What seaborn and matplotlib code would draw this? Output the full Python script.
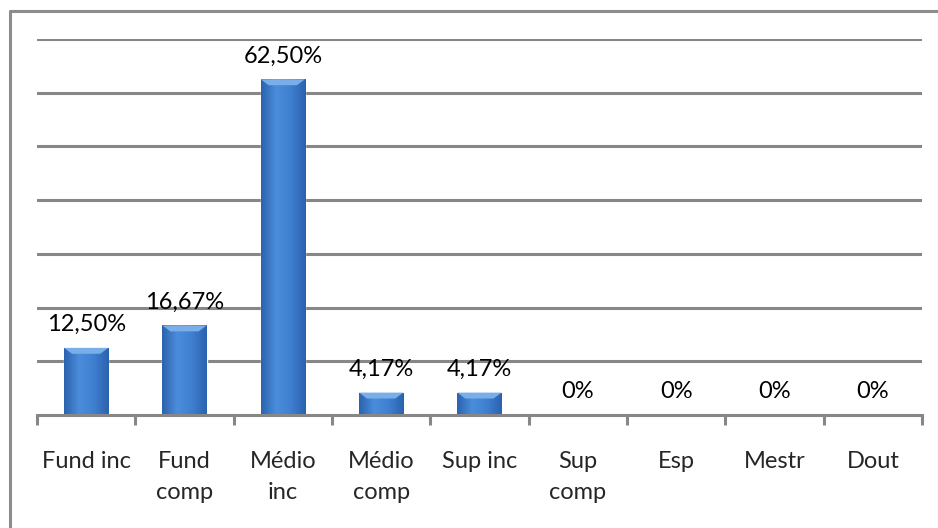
import matplotlib
matplotlib.use("Agg")
import matplotlib.pyplot as plt
import seaborn as sns
import numpy as np
import pandas as pd
from matplotlib.lines import Line2D
from matplotlib.colors import LinearSegmentedColormap

categories = ["Fund inc", "Fund\ncomp", "Médio\ninc", "Médio\ncomp", "Sup inc",
              "Sup\ncomp", "Esp", "Mestr", "Dout"]
values = [12.50, 16.67, 62.50, 4.17, 4.17, 0, 0, 0, 0]
value_labels = ["12,50%", "16,67%", "62,50%", "4,17%", "4,17%", "0%", "0%", "0%", "0%"]

sns.set_theme(style="white")
plt.rcParams["font.family"] = ["Lato", "DejaVu Sans"]

df = pd.DataFrame({"cat": categories, "val": values})

fig = plt.figure(figsize=(9.38, 5.28), dpi=100)
ax = fig.add_axes([37/938, 1-415/528, (922-37)/938, (415-39)/528])

sns.barplot(data=df, x="cat", y="val", color="#3c78c8", width=0.45, ax=ax,
            saturation=1)

ax.set_ylim(0, 70)
ax.set_xlim(-0.5, len(categories) - 0.5)
grid_c = "#878787"
for yv in range(10, 71, 10):
    ax.axhline(yv, color=grid_c, lw=2.2, zorder=0)

# gradient fill for bars
cmap = LinearSegmentedColormap.from_list("b", ["#2b62ad", "#4b8ddb", "#3f7fd0", "#2b62ad"])
grad = np.linspace(0, 1, 256).reshape(1, -1)
for p in ax.patches:
    x0, y0 = p.get_x(), p.get_y()
    w, h = p.get_width(), p.get_height()
    if h <= 0:
        continue
    im = ax.imshow(grad, cmap=cmap, aspect="auto", extent=[x0, x0 + w, y0, y0 + h],
                   zorder=p.get_zorder() + 0.1)
    im.set_clip_path(p)
    ax.fill([x0, x0 + w, x0 + w * 0.82, x0 + w * 0.18],
            [y0 + h, y0 + h, y0 + h - 1.1, y0 + h - 1.1],
            color="#7aaee9", zorder=p.get_zorder() + 0.2, lw=0)

for i, (v, lab) in enumerate(zip(values, value_labels)):
    ax.annotate(lab, (i, v), xytext=(0, 12), textcoords="offset points",
                ha="center", va="baseline", fontsize=17, color="#000000")

for s in ["top", "right", "left"]:
    ax.spines[s].set_visible(False)
ax.spines["bottom"].set_color(grid_c)
ax.spines["bottom"].set_linewidth(2.2)
ax.set_yticks([])
ax.set_xlabel("")
ax.set_ylabel("")
ax.set_xticks(np.arange(len(categories)))
ax.set_xticklabels(categories, fontsize=17, linespacing=1.6, va="top")
ax.tick_params(axis="x", length=0, pad=26)
ax.set_xticks(np.arange(-0.5, len(categories)), minor=True)
ax.tick_params(axis="x", which="minor", length=7.2, width=2.2, color=grid_c, direction="out", bottom=True)

# figure border (top and left)
fig.add_artist(Line2D([10/938, 10/938], [0, 1-11/528], transform=fig.transFigure, color="#8c8c8c", lw=2.2))
fig.add_artist(Line2D([10/938, 1], [1-11/528, 1-11/528], transform=fig.transFigure, color="#8c8c8c", lw=2.2))

fig.savefig("out.png", dpi=100, facecolor="white")
